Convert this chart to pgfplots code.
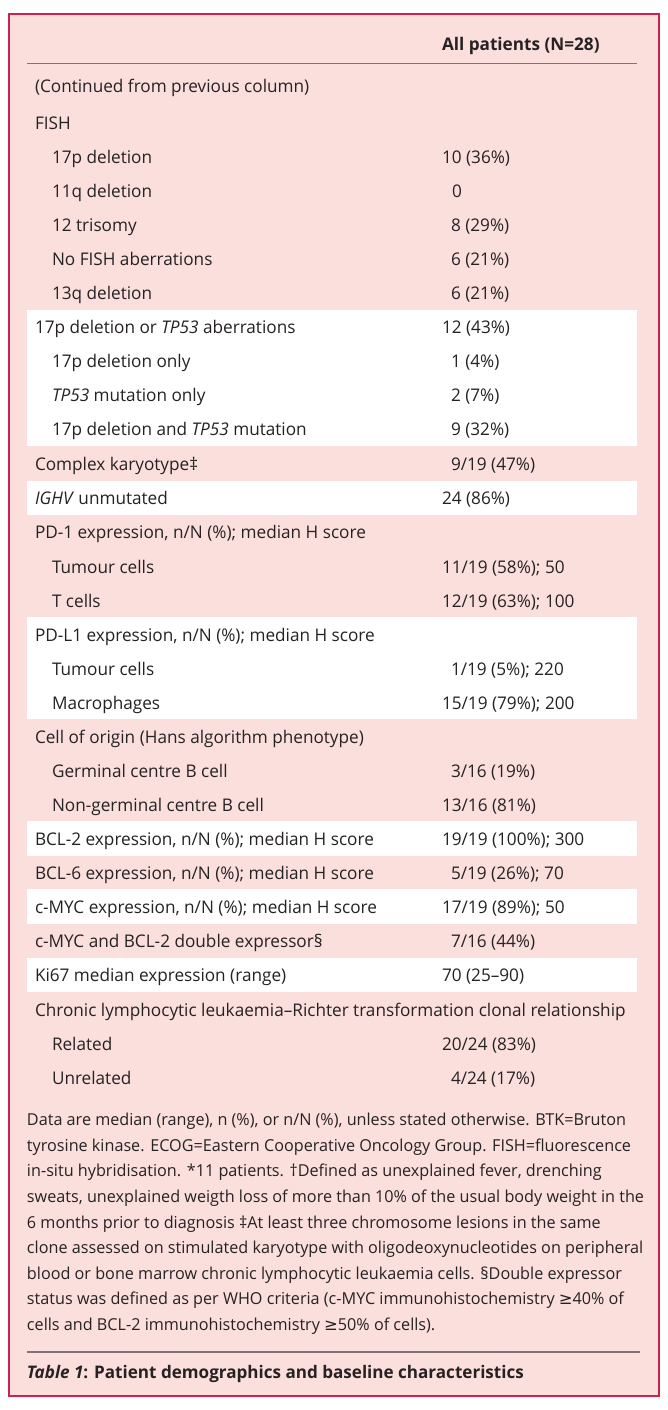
\documentclass[border=0pt]{standalone}
\usepackage{fontspec}
\setmainfont{Open Sans}[FakeStretch=0.985]
\newfontfamily\symfont{DejaVu Sans}
\usepackage{pgfplots}
\pgfplotsset{compat=1.18}
\protected\def\semi{;}
\definecolor{pinkbg}{RGB}{250,223,221}
\definecolor{bordercol}{RGB}{208,32,76}
\definecolor{rulecol}{RGB}{125,115,117}
\definecolor{txt}{RGB}{38,34,36}
\newcommand{\rowfont}{\fontsize{17.5}{20}\selectfont}
\newcommand{\footfont}{\fontsize{16.5}{19}\selectfont}
\begin{document}
\begin{tikzpicture}
\begin{axis}[
  width=668bp, height=1410bp, scale only axis,
  xmin=0, xmax=668, ymin=0, ymax=1410, y dir=reverse,
  axis lines=none, clip=false, enlargelimits=false,
  every node near coord/.append style={anchor=base west, inner sep=0pt, outer sep=0pt, text=txt, font=\rowfont},
]
% page extent (invisible)
\addplot[draw=none] coordinates {(0,0) (668,1410)};
% frame and background
\addplot[draw=bordercol, line width=1.5bp, fill=pinkbg] coordinates {(8.8,14) (659.2,14) (659.2,1396) (8.8,1396)} -- cycle;
% white row bands
\addplot[draw=none, fill=white] coordinates {(27,310) (637,310) (637,446) (27,446)} -- cycle;
\addplot[draw=none, fill=white] coordinates {(27,481) (637,481) (637,515) (27,515)} -- cycle;
\addplot[draw=none, fill=white] coordinates {(27,617) (637,617) (637,719) (27,719)} -- cycle;
\addplot[draw=none, fill=white] coordinates {(27,821) (637,821) (637,856) (27,856)} -- cycle;
\addplot[draw=none, fill=white] coordinates {(27,889) (637,889) (637,924) (27,924)} -- cycle;
\addplot[draw=none, fill=white] coordinates {(27,958) (637,958) (637,992) (27,992)} -- cycle;
% rules
\addplot[draw=rulecol, line width=1.3bp] coordinates {(27,63.5) (637,63.5)};
\addplot[draw=rulecol, line width=1.3bp] coordinates {(27,1352) (640,1352)};
% header
\addplot[draw=none, mark=none, point meta=explicit symbolic, nodes near coords,
  every node near coord/.append style={font=\rowfont\bfseries}] coordinates {
(442,50) [{All patients (N=28)}]
};
% row labels
\addplot[draw=none, mark=none, point meta=explicit symbolic, nodes near coords] coordinates {
(35,92) [{(Continued from previous column)}]
(35,129) [{FISH}]
(52,163) [{17p deletion}]
(52,197) [{11q deletion}]
(52,231) [{12 trisomy}]
(52,265) [{No FISH aberrations}]
(52,299) [{13q deletion}]
(35,333) [{17p deletion or \textit{TP53} aberrations}]
(52,367) [{17p deletion only}]
(52,401) [{\textit{TP53} mutation only}]
(52,435) [{17p deletion and \textit{TP53} mutation}]
(35,470) [{Complex karyotype‡}]
(35,504) [{\textit{IGHV} unmutated}]
(35,538) [{PD-1 expression, n/N (\%)\semi{} median H score}]
(52,573) [{Tumour cells}]
(52,607) [{T cells}]
(35,641) [{PD-L1 expression, n/N (\%)\semi{} median H score}]
(52,675) [{Tumour cells}]
(52,709) [{Macrophages}]
(35,743) [{Cell of origin (Hans algorithm phenotype)}]
(52,777) [{Germinal centre B cell}]
(52,811) [{Non-germinal centre B cell}]
(35,845) [{BCL-2 expression, n/N (\%)\semi{} median H score}]
(35,879) [{BCL-6 expression, n/N (\%)\semi{} median H score}]
(35,913) [{c-MYC expression, n/N (\%)\semi{} median H score}]
(35,947) [{c-MYC and BCL-2 double expressor§}]
(35,981) [{Ki67 median expression (range)}]
(35,1016) [{Chronic lymphocytic leukaemia–Richter transformation clonal relationship}]
(52,1050) [{Related}]
(52,1084) [{Unrelated}]
};
% values
\addplot[draw=none, mark=none, point meta=explicit symbolic, nodes near coords] coordinates {
(442,163) [{10 (36\%)}]
(452,197) [{0}]
(451,231) [{8 (29\%)}]
(451,265) [{6 (21\%)}]
(451,299) [{6 (21\%)}]
(442,333) [{12 (43\%)}]
(451,367) [{1 (4\%)}]
(451,401) [{2 (7\%)}]
(451,435) [{9 (32\%)}]
(451,470) [{9/19 (47\%)}]
(442,504) [{24 (86\%)}]
(442,573) [{11/19 (58\%)\semi{} 50}]
(442,607) [{12/19 (63\%)\semi{} 100}]
(451,675) [{1/19 (5\%)\semi{} 220}]
(442,709) [{15/19 (79\%)\semi{} 200}]
(451,777) [{3/16 (19\%)}]
(442,811) [{13/16 (81\%)}]
(442,845) [{19/19 (100\%)\semi{} 300}]
(451,879) [{5/19 (26\%)\semi{} 70}]
(442,913) [{17/19 (89\%)\semi{} 50}]
(451,947) [{7/16 (44\%)}]
(442,981) [{70 (25–90)}]
(442,1050) [{20/24 (83\%)}]
(451,1084) [{4/24 (17\%)}]
};
% footnote
\addplot[draw=none, mark=none, point meta=explicit symbolic, nodes near coords,
  every node near coord/.append style={font=\footfont}] coordinates {
(27,1125) [{Data are median (range), n (\%), or n/N (\%), unless stated otherwise. BTK=Bruton}]
(27,1151) [{tyrosine kinase. ECOG=Eastern Cooperative Oncology Group. FISH=fluorescence}]
(27,1176) [{in-situ hybridisation. *11 patients. †Defined as unexplained fever, drenching}]
(27,1202) [{sweats, unexplained weigth loss of more than 10\% of the usual body weight in the}]
(27,1228) [{6 months prior to diagnosis ‡At least three chromosome lesions in the same}]
(27,1253) [{clone assessed on stimulated karyotype with oligodeoxynucleotides on peripheral}]
(27,1279) [{blood or bone marrow chronic lymphocytic leukaemia cells. §Double expressor}]
(27,1304) [{status was defined as per WHO criteria (c-MYC immunohistochemistry {\symfont ≥}40\% of}]
(27,1330) [{cells and BCL-2 immunohistochemistry {\symfont ≥}50\% of cells).}]
};
% caption
\addplot[draw=none, mark=none, point meta=explicit symbolic, nodes near coords,
  every node near coord/.append style={font=\fontsize{17.4}{20}\selectfont\bfseries}] coordinates {
(27,1378) [{\textit{Table 1}: Patient demographics and baseline characteristics}]
};
\end{axis}
\end{tikzpicture}
\end{document}
